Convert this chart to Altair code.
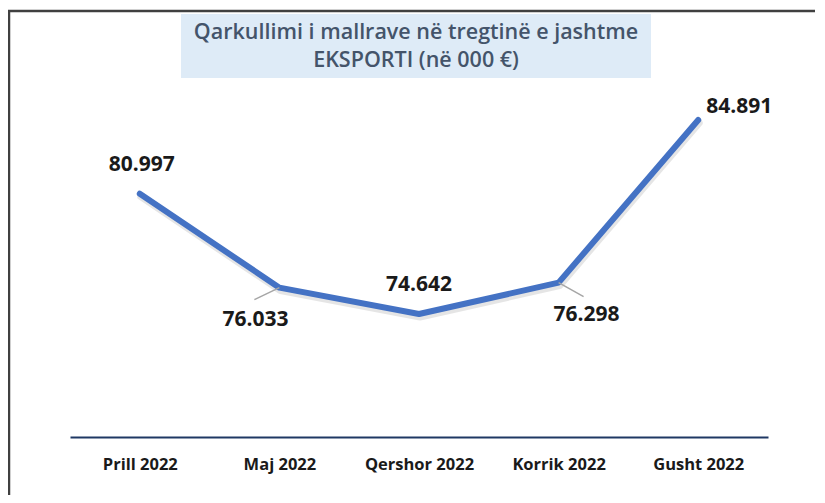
import altair as alt
import pandas as pd

# ---- data ----
months = ["Prill 2022", "Maj 2022", "Qershor 2022", "Korrik 2022", "Gusht 2022"]
values = [80.997, 76.033, 74.642, 76.298, 84.891]
labels = ["80.997", "76.033", "74.642", "76.298", "84.891"]
title_lines = ["Qarkullimi i mallrave në tregtinë e jashtme", "EKSPORTI (në 000 €)"]

df = pd.DataFrame({"month": months, "value": values, "label": labels})

# ---- layout / style ----
W, H = 698, 376
PAD = {"left": 62, "top": 53, "right": 47, "bottom": 58}
FONT = "Open Sans"
label_offsets = {  # month -> (dx, dy)
    "Prill 2022": (2, -29),
    "Maj 2022": (-24, 32),
    "Qershor 2022": (0, -29),
    "Korrik 2022": (28, 32),
    "Gusht 2022": (41, -13),
}
leader_offsets = {"Maj 2022": (-25, 12), "Korrik 2022": (25, 14)}

x = alt.X(
    "month:N",
    sort=months,
    scale=alt.Scale(type="point", padding=0.5),
    axis=alt.Axis(
        title=None, labelAngle=0, ticks=False, grid=False,
        domainColor="#1F3864", domainWidth=2,
        labelFont=FONT, labelFontWeight="bold", labelFontSize=16.5,
        labelColor="#1a1a1a", labelPadding=19,
    ),
)
y = alt.Y("value:Q", scale=alt.Scale(domain=[68.144, 88.008], nice=False, zero=False), axis=None)

base = alt.Chart(df).encode(x=x, y=y)

shadow = base.mark_line(color="#000000", opacity=0.10, strokeWidth=7, yOffset=3, xOffset=1,
                        strokeCap="round", strokeJoin="round")
line = base.mark_line(color="#4472C4", strokeWidth=6, strokeCap="round", strokeJoin="round")

leaders = []
for m, (ox, oy) in leader_offsets.items():
    leaders.append(
        base.transform_filter(alt.datum.month == m)
        .mark_rule(color="#A6A6A6", strokeWidth=1.5, x2Offset=ox, y2Offset=oy)
        .encode(x2=alt.X2("month"), y2=alt.Y2("value"))
    )

texts = []
for m, (dx, dy) in label_offsets.items():
    texts.append(
        base.transform_filter(alt.datum.month == m)
        .mark_text(dx=dx, dy=dy, font=FONT, fontWeight="bold", fontSize=21, color="#1a1a1a")
        .encode(text="label:N")
    )

deco_src = alt.Chart(pd.DataFrame({"k": [0]}))
title_box = deco_src.mark_rect(color="#DEEBF7").encode(
    x=alt.value(111), x2=alt.value(581), y=alt.value(-47), y2=alt.value(17)
)
title_t1 = deco_src.mark_text(font=FONT, fontWeight=600, fontSize=21.5, color="#44546A").encode(
    x=alt.value(346), y=alt.value(-28), text=alt.value(title_lines[0])
)
title_t2 = deco_src.mark_text(font=FONT, fontWeight=600, fontSize=21.5, color="#44546A").encode(
    x=alt.value(346), y=alt.value(0), text=alt.value(title_lines[1])
)
border_top = deco_src.mark_rule(color="#404040", strokeWidth=2.5).encode(
    x=alt.value(-62), x2=alt.value(W + PAD["right"]), y=alt.value(-50)
)
border_left = deco_src.mark_rule(color="#404040", strokeWidth=2.5).encode(
    x=alt.value(-61), y=alt.value(-50), y2=alt.value(H + PAD["bottom"])
)

chart = alt.layer(
    border_top, border_left, title_box, title_t1, title_t2,
    shadow, line, *leaders, *texts,
).properties(
    width=W, height=H, padding=PAD, autosize=alt.AutoSizeParams(type="none"),
    background="white",
).configure_view(stroke=None)

chart.save("out.html", embed_options={"renderer": "svg", "actions": False})
